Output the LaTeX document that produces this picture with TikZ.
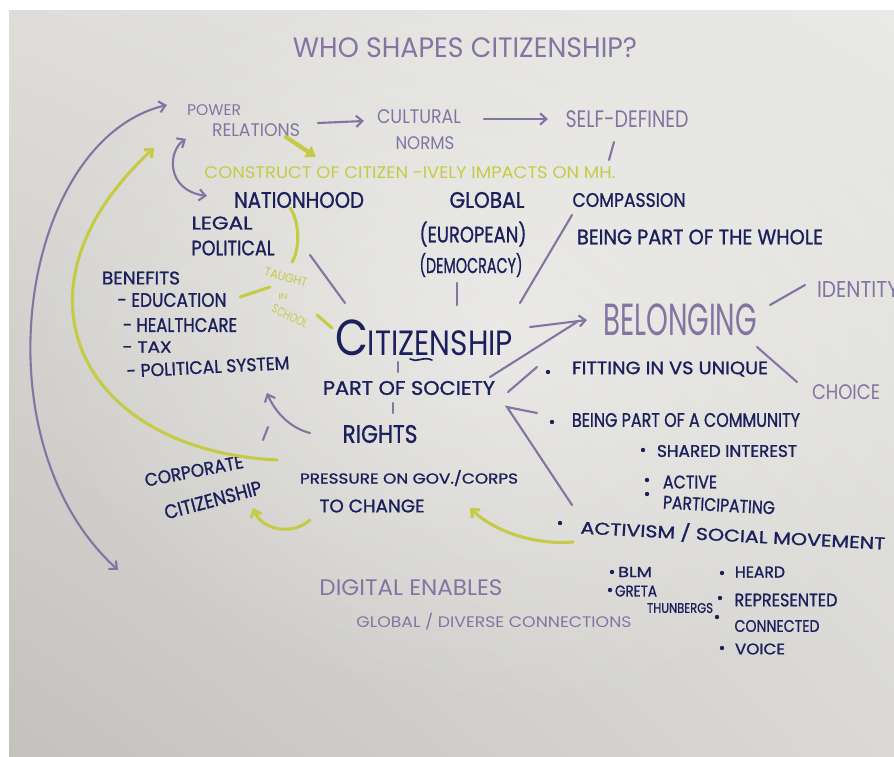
\documentclass[tikz,border=0pt]{standalone}
\usepackage{fontspec}
\usepackage{graphicx}
\usetikzlibrary{arrows.meta,fadings,shadings}
\newfontfamily\hand{Poppins}
\newfontfamily\handb[FakeBold=1.2]{Poppins}
\newlength\pxu
\setlength\pxu{0.025cm}
\newcommand\hw[3]{\resizebox*{#1\pxu}{#2\pxu}{#3}}
\definecolor{penpurple}{RGB}{132,116,162}
\definecolor{pennavy}{RGB}{27,32,92}
\definecolor{penyellow}{RGB}{198,203,70}
\definecolor{paperUL}{RGB}{222,221,217}
\definecolor{paperUR}{RGB}{233,233,229}
\definecolor{paperLL}{RGB}{196,194,190}
\definecolor{paperLR}{RGB}{218,217,213}
\tikzfading[name=glow, inner color=transparent!0, outer color=transparent!100]
\begin{document}
\begin{tikzpicture}[x=0.025cm,y=-0.025cm,
  lbl/.style={inner sep=0pt,outer sep=0pt},
  pu/.style={lbl,text=penpurple},
  nv/.style={lbl,text=pennavy},
  ye/.style={lbl,text=penyellow},
  pline/.style={draw=penpurple,line width=1.5pt,line cap=round},
  yline/.style={draw=penyellow,line width=2.2pt,line cap=round},
  barb/.style={-{Straight Barb[length=4.5pt,width=8pt]}},
  bbarb/.style={{Straight Barb[length=4.5pt,width=8pt]}-{Straight Barb[length=4.5pt,width=8pt]}}]
\useasboundingbox (0,0) rectangle (894,756);
\clip (0,0) rectangle (894,756);
% paper
\fill[white] (0,0) rectangle (894,756);
\shade[upper left=paperUL,upper right=paperUR,lower left=paperLL,lower right=paperLR] (9,10) rectangle (894,756);
\fill[white,opacity=0.4,path fading=glow] (500,330) ellipse (470 and 380);

% ---------- purple texts ----------
\node[pu] (title) at (465,48) {\hw{344}{20}{\hand WHO SHAPES CITIZENSHIP?}};
\node[pu] (power) at (214,110) {\hw{54}{11}{\hand POWER}};
\node[pu] (relations) at (256,130) {\hw{88}{13}{\hand RELATIONS}};
\node[pu] (cultural) at (419,117) {\hw{84}{14}{\hand CULTURAL}};
\node[pu] (norms) at (425,143) {\hw{59}{13}{\hand NORMS}};
\node[pu] (selfdef) at (627,119) {\hw{123}{17}{\hand SELF-DEFINED}};
\node[pu] (belonging) at (680,320) {\hw{154}{32}{\hand BELONGING}};
\node[pu] (identity) at (858,289) {\hw{82}{16}{\hand IDENTITY}};
\node[pu] (choice) at (846,392) {\hw{68}{15}{\hand CHOICE}};
\node[pu] (digital) at (411,588) {\hw{183}{16}{\hand DIGITAL ENABLES}};
\node[pu] (globaldiv) at (494,622) {\hw{275}{17}{\hand GLOBAL / DIVERSE CONNECTIONS}};

% ---------- yellow texts ----------
\node[ye] (construct) at (410,173) {\hw{411}{12}{\hand CONSTRUCT OF CITIZEN -IVELY IMPACTS ON MH.}};
\node[ye,rotate=-15] (taught) at (286,277) {\hw{44}{9}{\hand TAUGHT}};
\node[ye] (in) at (283,296) {\hw{9}{6}{\hand IN}};
\node[ye,rotate=-25] (school) at (290,316) {\hw{38}{9}{\hand SCHOOL}};

% ---------- navy texts ----------
\node[nv] (nationhood) at (299,200) {\hw{130}{16}{\handb NATIONHOOD}};
\node[nv] (global) at (487,200) {\hw{75}{16}{\handb GLOBAL}};
\node[nv] (compassion) at (629,200) {\hw{113}{14}{\handb COMPASSION}};
\node[nv] (legal) at (222,223) {\hw{61}{13}{\handb LEGAL}};
\node[nv] (political) at (233,248) {\hw{83}{15}{\handb POLITICAL}};
\node[nv] (european) at (473,234) {\hw{107}{25}{\handb (EUROPEAN)}};
\node[nv] (democracy) at (471,265) {\hw{103}{24}{\handb (DEMOCRACY)}};
\node[nv] (whole) at (700,237) {\hw{246}{15}{\handb BEING PART OF THE WHOLE}};
\node[nv] (benefits) at (141,278) {\hw{78}{13}{\handb BENEFITS}};
\node[nv] (edu) at (172,300) {\hw{109}{14}{\handb - EDUCATION}};
\node[nv] (health) at (180,325) {\hw{114}{14}{\handb - HEALTHCARE}};
\node[nv] (tax) at (147,347) {\hw{49}{11}{\handb - TAX}};
\node[nv,rotate=3] (polsys) at (208,367) {\hw{163}{13}{\handb - POLITICAL SYSTEM}};
\node[nv] (citizenship) at (424,338) {\hw{178}{36}{\hand{\huge C}{\Large ITIZENSHIP}}};
\node[nv] (society) at (409,388) {\hw{172}{14}{\handb PART OF SOCIETY}};
\node[nv] (rights) at (380,434) {\hw{75}{18}{\handb RIGHTS}};
\node[nv] (fitting) at (670,369) {\hw{196}{15}{\handb FITTING IN VS UNIQUE}};
\node[nv] (community) at (686,420) {\hw{228}{14}{\handb BEING PART OF A COMMUNITY}};
\node[nv] (shared) at (727,451) {\hw{140}{12}{\handb SHARED INTEREST}};
\node[nv] (active) at (690,482) {\hw{54}{13}{\handb ACTIVE}};
\node[nv,rotate=-3] (particip) at (719,505) {\hw{112}{13}{\handb PARTICIPATING}};
\node[nv,rotate=-3] (activism) at (733,535) {\hw{305}{19}{\handb ACTIVISM / SOCIAL MOVEMENT}};
\node[nv] (blm) at (635,572) {\hw{34}{10}{\handb BLM}};
\node[nv] (greta) at (636,591) {\hw{42}{11}{\handb GRETA}};
\node[nv] (thunberg) at (680,608) {\hw{66}{10}{\handb THUNBERGS}};
\node[nv] (heard) at (760,572) {\hw{50}{11}{\handb HEARD}};
\node[nv] (represented) at (786,600) {\hw{103}{13}{\handb REPRESENTED}};
\node[nv] (connected) at (777,626) {\hw{85}{12}{\handb CONNECTED}};
\node[nv] (voice) at (760,649) {\hw{50}{11}{\handb VOICE}};
\node[nv,rotate=11] (corporate) at (194,471) {\hw{100}{13}{\handb CORPORATE}};
\node[nv,rotate=15] (corpcit) at (213,500) {\hw{100}{14}{\handb CITIZENSHIP}};
\node[nv] (pressure) at (409,478) {\hw{218}{16}{\handb PRESSURE ON GOV./CORPS}};
\node[nv] (tochange) at (372,506) {\hw{105}{13}{\handb TO CHANGE}};

% bullets
\foreach \p in {(548,372),(552,422),(643,450),(647,480),(647,494),(560,523),(612,572),(610,590),(722,573),(720,598),(717,617),(722,648)}
  \fill[pennavy] \p circle (2.2);

% ---------- connector end points ----------
\coordinate (prA) at (318,123); \coordinate (cnA) at (364,121);
\coordinate (cnB) at (484,119); \coordinate (sdA) at (548,119);
\coordinate (sdT1) at (614,142); \coordinate (sdT2) at (609,160);
\coordinate (yaA) at (286,137); \coordinate (yaB) at (316,157);
\coordinate (spA) at (186,139); \coordinate (spB) at (207,196);
\coordinate (bpA) at (167,105); \coordinate (bpB) at (118,570);
\coordinate (ylA) at (277,460); \coordinate (ylB) at (154,148);
\coordinate (ycA) at (290,208); \coordinate (ycB) at (292,262);
\coordinate (yeA) at (240,297); \coordinate (yeB) at (270,287);
\coordinate (ysA) at (317,315); \coordinate (ysB) at (332,328);
\coordinate (lcA) at (310,255); \coordinate (lcB) at (345,303);
\coordinate (dtA) at (457,283); \coordinate (dtB) at (457,305);
\coordinate (cpA) at (520,303); \coordinate (cpB) at (572,215);
\coordinate (cbA) at (530,327); \coordinate (cbB) at (587,320);
\coordinate (sbA) at (490,377); \coordinate (sbB) at (577,322);
\coordinate (biA) at (770,305); \coordinate (biB) at (805,285);
\coordinate (bcA) at (757,347); \coordinate (bcB) at (797,382);
\coordinate (t1A) at (398,362); \coordinate (t1B) at (398,372);
\coordinate (t2A) at (393,403); \coordinate (t2B) at (393,413);
\coordinate (fiA) at (508,392); \coordinate (fiB) at (537,367);
\coordinate (vA) at (537,413); \coordinate (vM) at (507,407); \coordinate (vB) at (572,505);
\coordinate (raA) at (310,433); \coordinate (raB) at (267,393);
\coordinate (slA) at (263,440); \coordinate (slB) at (268,427);
\coordinate (ypA) at (310,520); \coordinate (ypB) at (253,508);
\coordinate (yaC) at (573,542); \coordinate (yaD) at (470,508);
\coordinate (sqA) at (410,359); \coordinate (sqB) at (432,360);

% ---------- purple connectors ----------
\draw[pline,barb] (prA) -- (cnA);
\draw[pline,barb] (cnB) -- (sdA);
\draw[pline] (sdT1) -- (sdT2);
\draw[pline,bbarb] (spA) .. controls (168,150) and (165,190) .. (spB);
\draw[pline,bbarb] (bpA) .. controls (20,140) and (-25,440) .. (bpB);
\draw[pline] (lcA) -- (lcB);
\draw[pline] (dtA) -- (dtB);
\draw[pline] (cpA) -- (cpB);
\draw[pline,barb] (cbA) -- (cbB);
\draw[pline] (sbA) -- (sbB);
\draw[pline] (biA) -- (biB);
\draw[pline] (bcA) -- (bcB);
\draw[pline] (t1A) -- (t1B);
\draw[pline] (t2A) -- (t2B);
\draw[pline] (fiA) -- (fiB);
\draw[pline] (vA) -- (vM) -- (vB);
\draw[pline,barb] (raA) .. controls (290,428) and (275,412) .. (raB);
\draw[pline] (slA) -- (slB);
\draw[draw=pennavy,line width=1.2pt,line cap=round] (sqA) .. controls (416,363) and (424,356) .. (sqB);

% ---------- yellow connectors ----------
\draw[yline,line width=3pt,-{Triangle[length=7pt,width=9pt]}] (yaA) -- (yaB);
\draw[yline,barb] (ylA) .. controls (80,450) and (0,290) .. (ylB);
\draw[yline] (ycA) .. controls (300,222) and (300,250) .. (ycB);
\draw[yline] (yeA) -- (yeB);
\draw[yline] (ysA) -- (ysB);
\draw[yline,barb] (ypA) .. controls (292,536) and (262,530) .. (ypB);
\draw[yline,barb] (yaC) .. controls (535,545) and (495,532) .. (yaD);
\end{tikzpicture}
\end{document}
